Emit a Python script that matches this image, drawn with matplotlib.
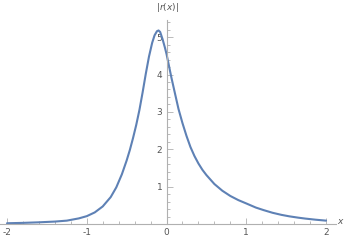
import numpy as np
import matplotlib.pyplot as plt
from matplotlib.ticker import MultipleLocator, FixedLocator

x_vals = [-2.0, -1.8, -1.6, -1.4, -1.25, -1.1, -1.0, -0.9, -0.8, -0.7,
          -0.63, -0.56, -0.5, -0.46, -0.42, -0.38, -0.34, -0.3, -0.26, -0.22,
          -0.18, -0.15, -0.12, -0.1, -0.08, -0.05, -0.02, 0.0, 0.03, 0.06,
          0.1, 0.15, 0.2, 0.25, 0.3, 0.35, 0.4, 0.45, 0.5, 0.6,
          0.7, 0.8, 0.9, 1.0, 1.12, 1.22, 1.33, 1.44, 1.54, 1.65,
          1.74, 1.87, 2.0]
r_vals = [0.02, 0.03, 0.045, 0.065, 0.09, 0.15, 0.21, 0.31, 0.47, 0.72,
          0.98, 1.33, 1.7, 1.98, 2.3, 2.65, 3.05, 3.52, 4.02, 4.48,
          4.85, 5.05, 5.16, 5.18, 5.14, 4.95, 4.72, 4.55, 4.24, 3.93,
          3.55, 3.08, 2.7, 2.36, 2.06, 1.82, 1.62, 1.45, 1.31, 1.07,
          0.89, 0.75, 0.64, 0.55, 0.44, 0.37, 0.3, 0.245, 0.205, 0.17,
          0.145, 0.115, 0.09]
x_ticks = [-2, -1, 0, 1, 2]
y_ticks = [1, 2, 3, 4, 5]

axis_col = '#b0b0b0'
text_col = '#555555'

fig = plt.figure(figsize=(3.46, 2.4), dpi=100)
ax = fig.add_axes([0, 16/240, 336/346, 204/240])
ax.plot(x_vals, r_vals, color='#5E81B5', lw=1.5, solid_capstyle='round',
        solid_joinstyle='round')

ax.set_xlim(-2.088, 2.125)
ax.set_ylim(0, 5.46)

for s in ['top', 'right']:
    ax.spines[s].set_visible(False)
ax.spines['left'].set_position(('data', 0))
ax.spines['bottom'].set_position(('data', 0))
for s in ['left', 'bottom']:
    ax.spines[s].set_color(axis_col)
    ax.spines[s].set_linewidth(0.8)

ax.xaxis.set_major_locator(FixedLocator(x_ticks))
ax.yaxis.set_major_locator(FixedLocator(y_ticks))
ax.xaxis.set_minor_locator(MultipleLocator(0.2))
ax.yaxis.set_minor_locator(MultipleLocator(0.2))
ax.tick_params(which='both', direction='in', color=axis_col, width=0.6,
               labelcolor=text_col, labelsize=6.5)
ax.tick_params(which='major', length=4, pad=3)
ax.tick_params(which='minor', length=2.3)
ax.set_xticklabels([str(t) for t in x_ticks])
ax.set_yticklabels([str(t) for t in y_ticks])

fig.text(167/346, 1 - 7/240, r'$|r(x)|$', color=text_col, fontsize=6.5,
         ha='center', va='center')
fig.text(341/346, 1 - 222/240, r'$x$', color=text_col, fontsize=6.5,
         ha='center', va='center')

fig.savefig('out.png', dpi=100)
